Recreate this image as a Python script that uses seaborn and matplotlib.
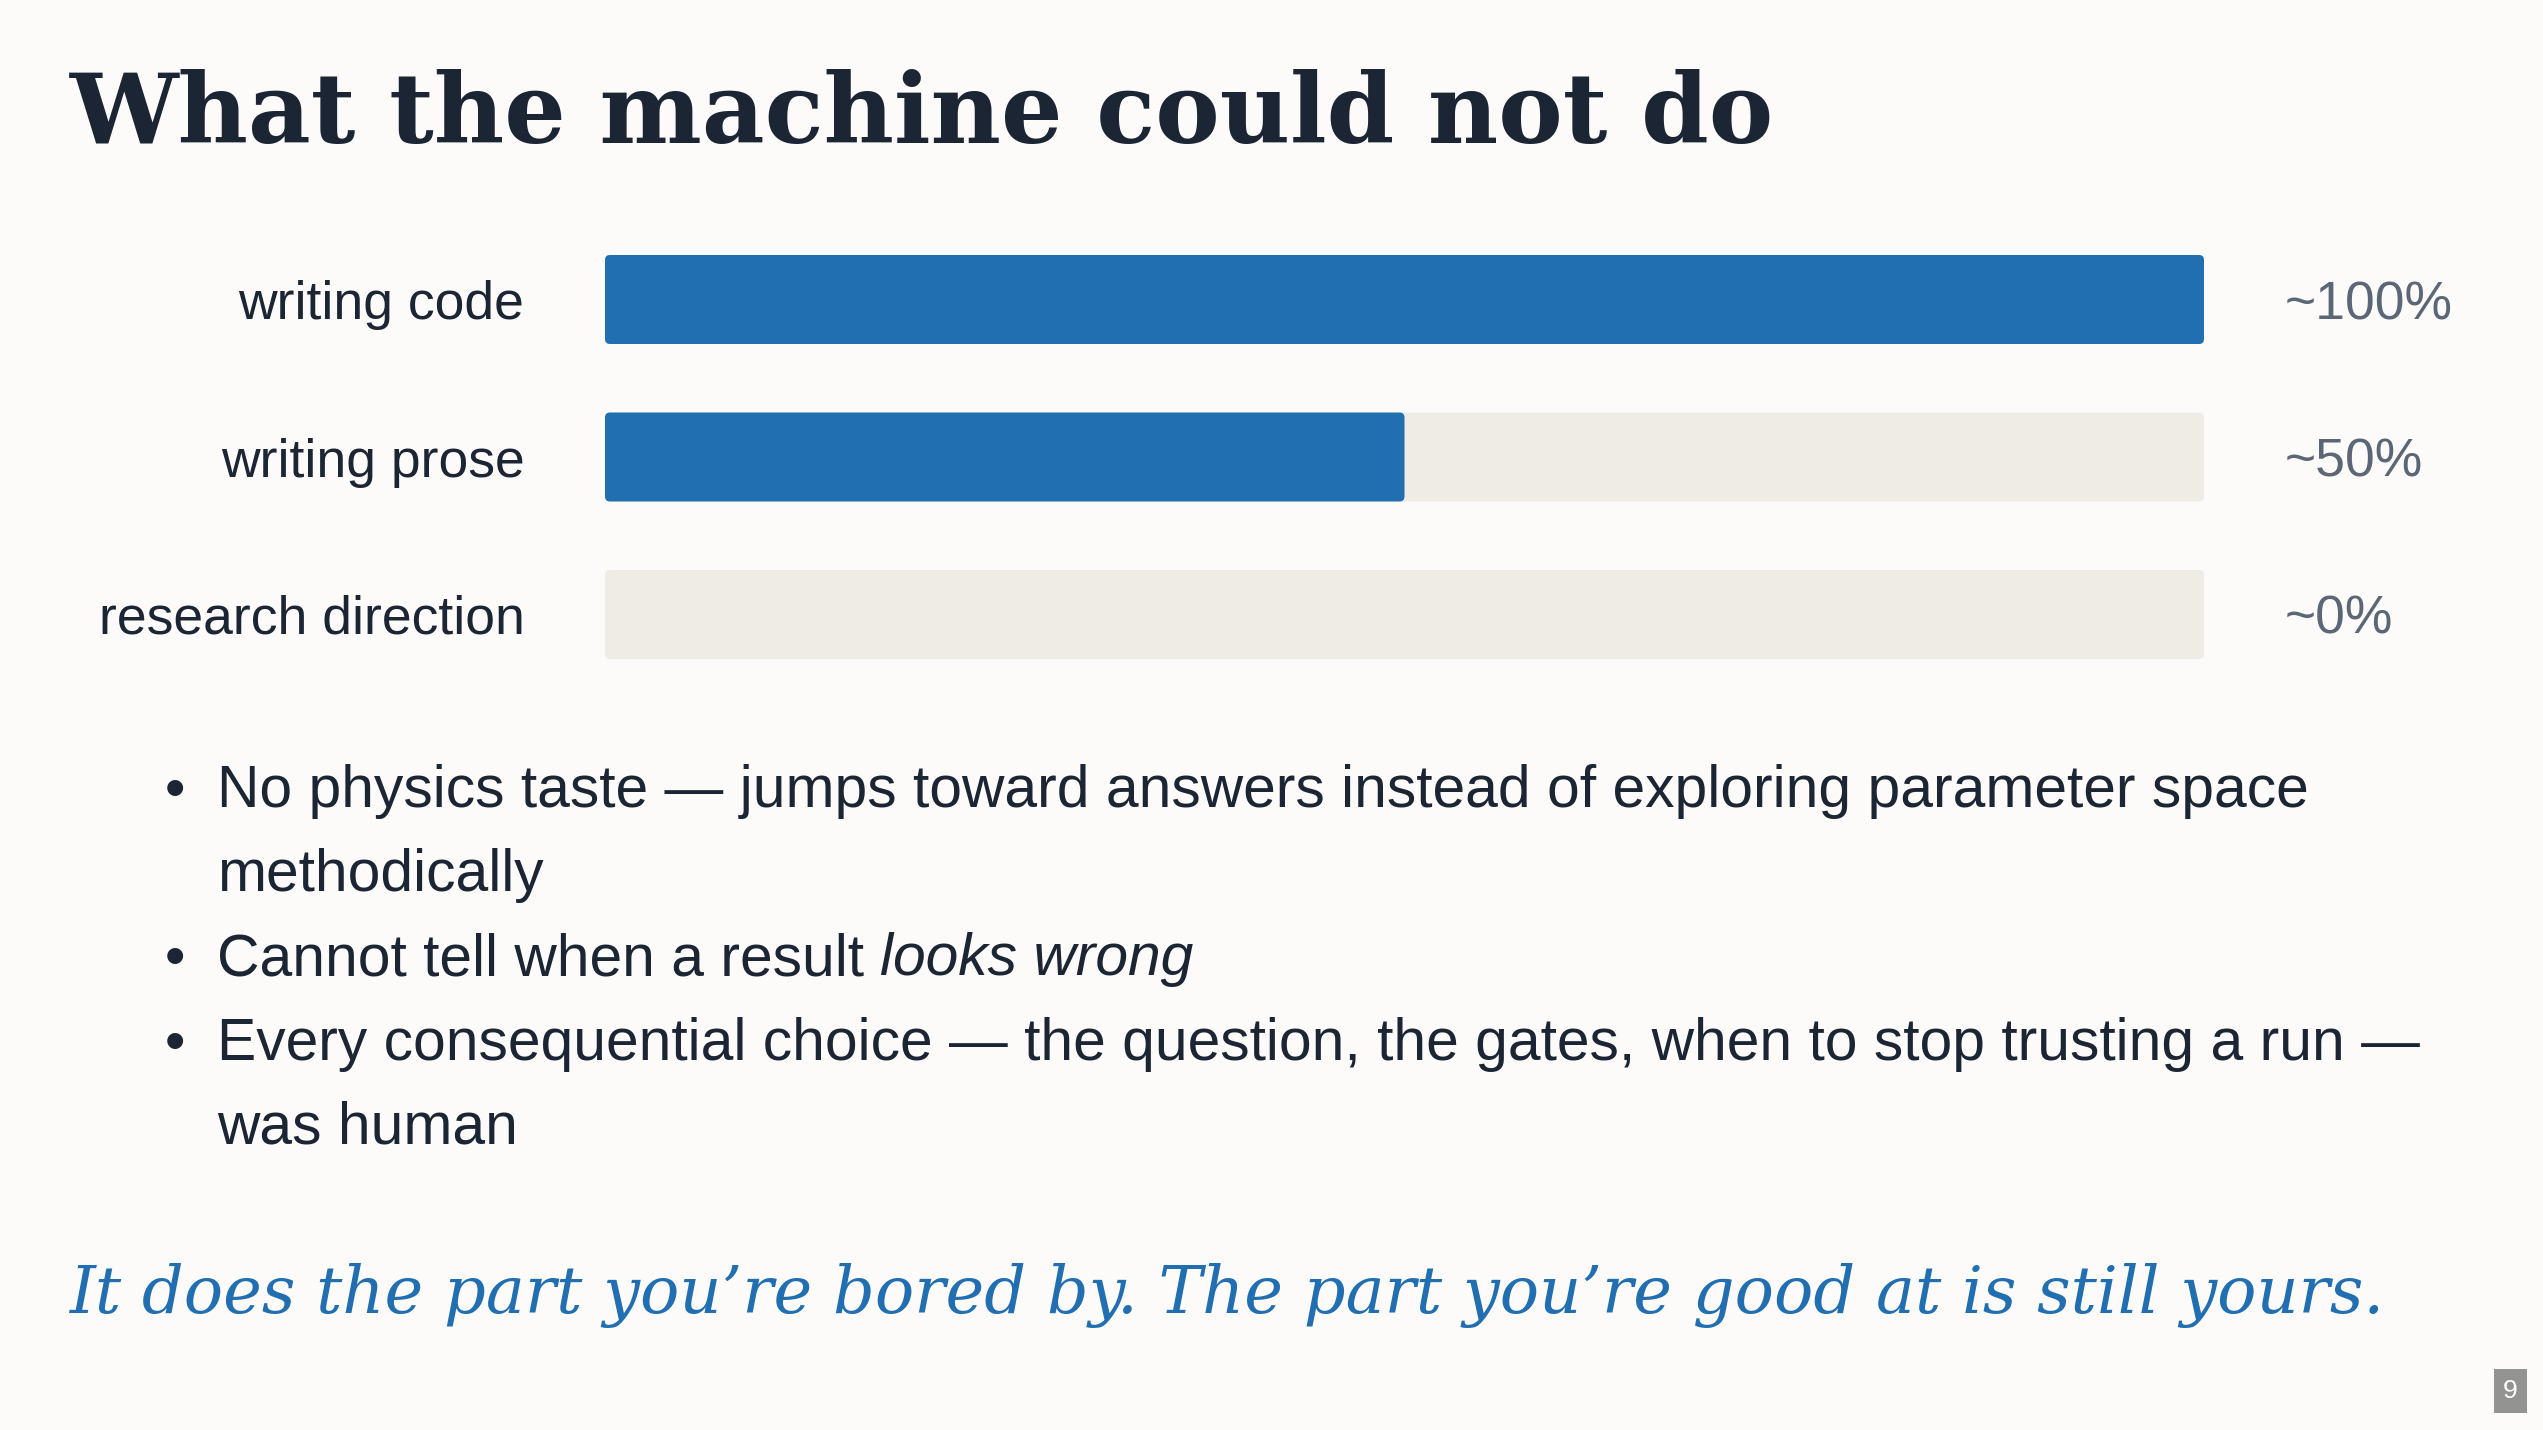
import matplotlib
matplotlib.use('Agg')
import matplotlib.pyplot as plt
import seaborn as sns
import pandas as pd
from matplotlib.patches import FancyBboxPatch, Rectangle

# chart data
tasks = ['writing code', 'writing prose', 'research direction']
share = [100, 50, 0]
share_labels = ['~100%', '~50%', '~0%']
scale_max = 100

title = 'What the machine could not do'
bullet_lines = [
    ('•', 'No physics taste — jumps toward answers instead of exploring parameter space', None),
    ('', 'methodically', None),
    ('•', 'Cannot tell when a result ', 'looks wrong'),
    ('•', 'Every consequential choice — the question, the gates, when to stop trusting a run —', None),
    ('', 'was human', None),
]
quote = 'It does the part you’re bored by. The part you’re good at is still yours.'
page_no = '9'

BG = '#fcfbf9'
BLUE = '#216fb0'
TRACK = '#efece6'
INK = '#1b2533'
MUTED = '#5b6677'

W, H = 2543, 1430
sns.set_theme(style='white')
plt.rcParams['font.family'] = ['Liberation Sans', 'DejaVu Sans']

fig = plt.figure(figsize=(W / 100, H / 100), dpi=100, facecolor=BG)
renderer = fig.canvas.get_renderer()


def fit_width(txt, target_px):
    w = txt.get_window_extent(renderer).width
    txt.set_fontsize(txt.get_fontsize() * target_px / w)


# title
t = fig.text(70 / W, 1 - 143 / H, title, fontsize=80, family='DejaVu Serif',
             weight='bold', color=INK, va='baseline', ha='left')
fit_width(t, 1703)

# bars
ax = fig.add_axes([605 / W, 1 - 693.25 / H, 1599 / W, 472.5 / H])
ax.set_facecolor('none')
df = pd.DataFrame({'task': tasks, 'share': share})
sns.barplot(x=[scale_max] * len(tasks), y=tasks, color=TRACK, saturation=1,
            width=0.565, linewidth=0, ax=ax)
sns.barplot(data=df, x='share', y='task', color=BLUE, saturation=1,
            width=0.565, linewidth=0, ax=ax)
ax.set_xlim(0, scale_max)
ax.set_ylim(2.5, -0.5)

# swap plain rectangles for slightly rounded ones
px_x = 1599 / scale_max
px_y = 472.5 / 3
for p in [p for p in ax.patches if isinstance(p, Rectangle)]:
    x0, y0, w, h = p.get_x(), p.get_y(), p.get_width(), p.get_height()
    fc = p.get_facecolor()
    p.remove()
    if w <= 0:
        continue
    ax.add_patch(FancyBboxPatch((x0, y0), w, h,
                                boxstyle='round,pad=0,rounding_size=%f' % (5 / px_x),
                                mutation_aspect=px_x / px_y,
                                facecolor=fc, edgecolor='none', zorder=2))

for s in ax.spines.values():
    s.set_visible(False)
ax.set_xticks([])
ax.set_xlabel('')
ax.set_ylabel('')
ax.tick_params(axis='y', length=0, pad=58, labelsize=38.5, labelcolor=INK)
for lab in ax.get_yticklabels():
    lab.set_verticalalignment('center_baseline')

for i, lab in enumerate(share_labels):
    ax.annotate(lab, xy=(scale_max, i), xytext=(58, 0), textcoords='offset points',
                ha='left', va='center_baseline', fontsize=38.5, color=MUTED)

# bullets
baselines = [807, 891, 975, 1060, 1143]
size = None
for (mark, txt, ital), yb in zip(bullet_lines, baselines):
    y = 1 - yb / H
    if mark:
        fig.text(175 / W, y, mark, ha='center', va='baseline', fontsize=42, color=INK)
    t = fig.text(217 / W, y, txt, ha='left', va='baseline', fontsize=42, color=INK)
    if size is None:
        fit_width(t, 2094)
        size = t.get_fontsize()
    t.set_fontsize(size)
    if ital:
        x_end = t.get_window_extent(renderer).x1
        fig.text(x_end / W, y, ital, fontsize=size, style='italic', color=INK,
                 ha='left', va='baseline')

# closing line
q = fig.text(70 / W, 1 - 1313 / H, quote, fontsize=50, family='DejaVu Serif',
             style='italic', color=BLUE, ha='left', va='baseline')
fit_width(q, 2319)

# page number
fig.patches.append(Rectangle((2494 / W, 1 - 1413 / H), 33 / W, 44 / H,
                             transform=fig.transFigure, facecolor='#939391',
                             edgecolor='none'))
fig.text(2510.5 / W, 1 - 1391 / H, page_no, ha='center', va='center',
         fontsize=19, color='white')

fig.savefig('out.png', dpi=100, facecolor=BG)
